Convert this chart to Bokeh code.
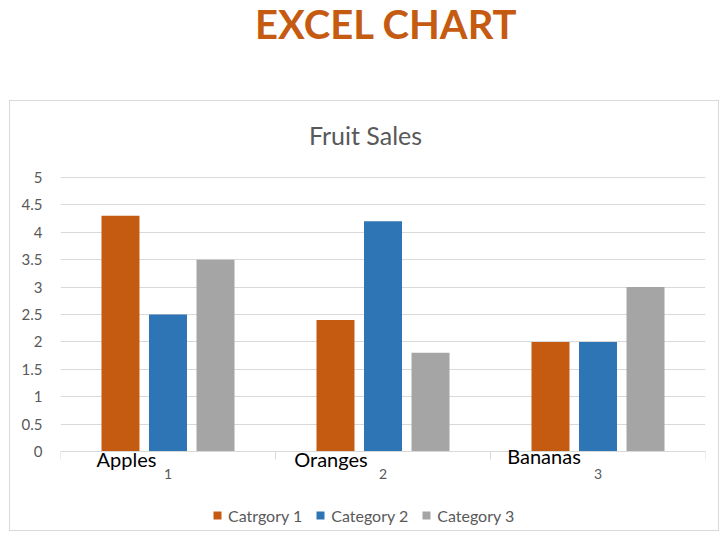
from bokeh.plotting import figure
from bokeh.models import (ColumnDataSource, Range1d, FixedTicker, Label,
                          Legend, LegendItem, InlineStyleSheet)
from bokeh.transform import dodge
from bokeh.embed import file_html
from bokeh.resources import INLINE

# ---- data ----
fruits = ["Apples", "Oranges", "Bananas"]
category_numbers = ["1", "2", "3"]
series_names = ["Catrgory 1", "Category 2", "Category 3"]
cat1 = [4.3, 2.4, 2.0]
cat2 = [2.5, 4.2, 2.0]
cat3 = [3.5, 1.8, 3.0]
y_ticks = [0, 0.5, 1, 1.5, 2, 2.5, 3, 3.5, 4, 4.5, 5]
y_tick_labels = ["0", "0.5", "1", "1.5", "2", "2.5", "3", "3.5", "4", "4.5", "5"]
page_title = "EXCEL CHART"
chart_title = "Fruit Sales"

# ---- styles / positions ----
colors = ["#C55A11", "#2E75B6", "#A5A5A5"]
FONT = "Lato"
GRAY = "#595959"
LINE = "#D9D9D9"
x_pos = [1, 2, 3]
category_bounds = [0.5, 1.5, 2.5, 3.5]
fruit_label_x = [0.807, 1.758, 2.749]   # where the free text labels sit
fruit_label_offset = [-7, -7, -4]       # px from the value-0 line
number_label_offset = -22
chart_title_x = 1.9186
page_title_x = 2.016
chart_title_offset = 42                 # px above the value-5 line
page_title_offset = 153

source = ColumnDataSource(dict(x=x_pos, s1=cat1, s2=cat2, s3=cat3))

box_css = InlineStyleSheet(css="""
:host::after {
  content: "";
  position: absolute;
  left: 9px; top: 100px; width: 710px; height: 431px;
  box-sizing: border-box;
  border: 1px solid #D9D9D9;
  pointer-events: none;
}
""")

# the frame spans the full height, so every text and the legend sit inside it
p = figure(frame_width=645, frame_height=528, output_backend="svg", toolbar_location=None,
           x_range=Range1d(0.5, 3.5), y_range=Range1d(-1.4051, 8.2299),
           min_border_left=60, min_border_right=23, min_border_top=0,
           min_border_bottom=13, title=None)
p.stylesheets = [box_css]
p.outline_line_color = None
p.background_fill_color = "white"
p.border_fill_color = "white"

xa = p.xaxis[0]
ya = p.yaxis[0]

bw = 0.1767
offs = [-0.221, 0.0, 0.221]
renderers = []
for col, off, c in zip(["s1", "s2", "s3"], offs, colors):
    r = p.vbar(x=dodge("x", off, range=p.x_range), top=col, bottom=0, width=bw,
               source=source, fill_color=c, line_color=None)
    renderers.append(r)

# y axis
ya.ticker = FixedTicker(ticks=y_ticks)
ya.major_label_overrides = {t: l for t, l in zip(y_ticks, y_tick_labels)}
ya.axis_line_color = None
ya.major_tick_line_color = None
ya.minor_tick_line_color = None
ya.major_label_text_font = FONT
ya.major_label_text_font_size = "15px"
ya.major_label_text_color = GRAY
ya.major_label_standoff = 12

# category axis at value 0, with tick marks at the category boundaries
xa.ticker = FixedTicker(ticks=[], minor_ticks=category_bounds)
xa.fixed_location = 0
xa.axis_line_color = LINE
xa.major_tick_line_color = None
xa.major_tick_out = 0
xa.major_tick_in = 0
xa.minor_tick_line_color = LINE
xa.minor_tick_out = 8
xa.minor_tick_in = 0
xa.major_label_standoff = 0

p.xgrid.grid_line_color = None
p.ygrid.ticker = FixedTicker(ticks=y_ticks)
p.ygrid.grid_line_color = LINE

top_val = y_ticks[-1]

# titles
p.add_layout(Label(x=page_title_x, y=top_val, y_offset=page_title_offset, text=page_title,
                   text_align="center", text_baseline="alphabetic", text_font=FONT,
                   text_font_style="bold", text_font_size="40px", text_color="#C55A11"))
p.add_layout(Label(x=chart_title_x, y=top_val, y_offset=chart_title_offset, text=chart_title,
                   text_align="center", text_baseline="alphabetic", text_font=FONT,
                   text_font_size="25px", text_color=GRAY))

# category texts
for xv, t, d in zip(fruit_label_x, fruits, fruit_label_offset):
    p.add_layout(Label(x=xv, y=0, y_offset=d, text=t, text_align="center",
                       text_baseline="alphabetic", text_font=FONT, text_font_size="20px",
                       text_color="black"))
for xv, t in zip(x_pos, category_numbers):
    p.add_layout(Label(x=xv, y=0, y_offset=number_label_offset, text=t, text_align="center",
                       text_baseline="alphabetic", text_font=FONT, text_font_size="14px",
                       text_color=GRAY))

legend = Legend(items=[LegendItem(label=n, renderers=[r]) for n, r in zip(series_names, renderers)],
                orientation="horizontal", location=(152, 3),
                glyph_width=10, glyph_height=10, label_standoff=6, spacing=13,
                label_text_font=FONT, label_text_font_size="16px", label_text_color=GRAY,
                label_height=20, padding=0, margin=0, border_line_color=None,
                background_fill_color=None)
p.add_layout(legend, "center")

open("out.html", "w").write(file_html(p, INLINE))
